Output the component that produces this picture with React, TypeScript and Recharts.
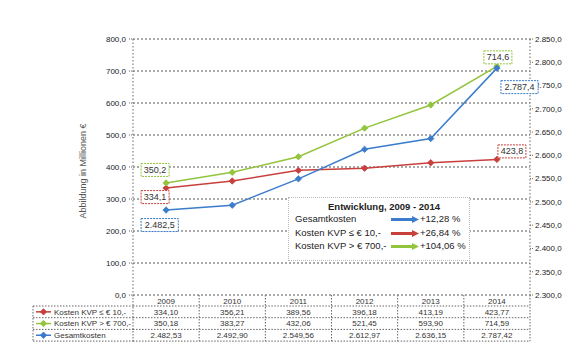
import React from 'react';
import { ComposedChart, Line, XAxis, YAxis, CartesianGrid, LabelList } from 'recharts';

const years = ['2009', '2010', '2011', '2012', '2013', '2014'];
const kostenKlein = [334.1, 356.21, 389.56, 396.18, 413.19, 423.77];
const kostenGross = [350.18, 383.27, 432.06, 521.45, 593.9, 714.59];
const gesamtkosten = [2482.53, 2492.9, 2549.56, 2612.97, 2636.15, 2787.42];
const leftTicks = [0, 100, 200, 300, 400, 500, 600, 700, 800];
const rightTicks = [2300, 2350, 2400, 2450, 2500, 2550, 2600, 2650, 2700, 2750, 2800, 2850];
const trends = ['+12,28 %', '+26,84 %', '+104,06 %'];

const RED = '#c8403c';
const GREEN = '#92c43c';
const BLUE = '#3c7ccc';

const W = 564;
const H = 362;
const LEFT_W = 133;
const RIGHT_W = 34;
const TOP = 39;
const X_H = 67;
const PLOT_W = W - LEFT_W - RIGHT_W;
const COL_W = PLOT_W / years.length;
const TABLE_TOP = H - X_H;
const HEAD_H = 11;
const ROW_H = 11.7;

const data = years.map((year, i) => ({
  year,
  klein: kostenKlein[i],
  gross: kostenGross[i],
  gesamt: gesamtkosten[i],
}));

// german number format
function fmt(v: number, d: number) {
  const s = v.toFixed(d);
  const [i, f] = s.split('.');
  const ii = i.replace(/\B(?=(\d{3})+(?!\d))/g, '.');
  return f ? ii + ',' + f : ii;
}

// table rows, in order red / green / blue
const rows = [
  { key: 'klein', name: 'Kosten KVP ≤ € 10,-', color: RED, values: kostenKlein },
  { key: 'gross', name: 'Kosten KVP > € 700,-', color: GREEN, values: kostenGross },
  { key: 'gesamt', name: 'Gesamtkosten', color: BLUE, values: gesamtkosten },
];

// label box offsets (first / last point)
const labelPos: Record<string, { first: number[]; last: number[] }> = {
  gross: { first: [-25, -13], last: [-13, -9] },
  klein: { first: [-25, 9], last: [1, -8] },
  gesamt: { first: [-25, 15], last: [4, 19] },
};

const dotted = '#666';

function Diamond(props: any) {
  const { cx, cy, color } = props;
  if (cx == null || cy == null) return null;
  const r = 3.2;
  return (
    <path
      d={`M${cx},${cy - r}L${cx + r},${cy}L${cx},${cy + r}L${cx - r},${cy}Z`}
      fill={color}
      stroke={color}
      strokeWidth={0.8}
    />
  );
}

function makeLabel(key: string, color: string) {
  return (props: any) => {
    const { x, y, value, index } = props;
    if (index !== 0 && index !== years.length - 1) return null;
    const pos = index === 0 ? labelPos[key].first : labelPos[key].last;
    const text = fmt(Number(value), 1);
    const w = text.length * 4.6 + 5;
    const bx = x + pos[0];
    const cy = y + pos[1];
    return (
      <g>
        <rect x={bx} y={cy - 6.5} width={w} height={13} fill="#fff" stroke={color} strokeWidth={1} strokeDasharray="2 1" />
        <text x={bx + w / 2} y={cy + 3} textAnchor="middle" fontSize={9} fill="#333">
          {text}
        </text>
      </g>
    );
  };
}

function TableTick(props: any) {
  const { x, index } = props;
  const left = x - COL_W / 2;
  const right = x + COL_W / 2;
  const bottom = TABLE_TOP + HEAD_H + ROW_H * rows.length;
  const lineProps = { stroke: dotted, strokeWidth: 1, strokeDasharray: '1.5 1.5' };
  return (
    <g>
      <line x1={right} y1={TABLE_TOP} x2={right} y2={bottom} {...lineProps} />
      {index === 0 && <line x1={left} y1={TABLE_TOP} x2={left} y2={bottom} {...lineProps} />}
      <text x={x} y={TABLE_TOP + 8.5} textAnchor="middle" fontSize={8} fill="#333">
        {years[index]}
      </text>
      {rows.map((r, ri) => {
        const top = TABLE_TOP + HEAD_H + ROW_H * ri;
        return (
          <g key={r.key}>
            <line x1={left} y1={top} x2={right} y2={top} {...lineProps} />
            <text x={x} y={top + 8.5} textAnchor="middle" fontSize={8} fill="#333">
              {fmt(r.values[index], 2)}
            </text>
          </g>
        );
      })}
      <line x1={left} y1={bottom} x2={right} y2={bottom} {...lineProps} />
      {index === 0 && (
        <g>
          <line x1={33} y1={TABLE_TOP + HEAD_H} x2={33} y2={bottom} {...lineProps} />
          {rows.map((r, ri) => {
            const top = TABLE_TOP + HEAD_H + ROW_H * ri;
            const mid = top + ROW_H / 2;
            return (
              <g key={r.key}>
                <line x1={33} y1={top} x2={left} y2={top} {...lineProps} />
                <line x1={36} y1={mid} x2={51} y2={mid} stroke={r.color} strokeWidth={1.5} />
                <Diamond cx={43.5} cy={mid} color={r.color} />
                <text x={54} y={top + 8.5} fontSize={8} fill="#333">
                  {r.name}
                </text>
              </g>
            );
          })}
          <line x1={33} y1={bottom} x2={left} y2={bottom} {...lineProps} />
        </g>
      )}
    </g>
  );
}

function Arrow({ color }: { color: string }) {
  return (
    <svg width={28} height={7} style={{ display: 'block' }}>
      <rect x={0} y={2} width={22} height={3} fill={color} />
      <polygon points="21,0 28,3.5 21,7" fill={color} />
    </svg>
  );
}

function TrendBox() {
  const names = ['Gesamtkosten', 'Kosten KVP ≤ € 10,-', 'Kosten KVP > € 700,-'];
  const colors = [BLUE, RED, GREEN];
  return (
    <div
      style={{
        position: 'absolute',
        left: 288,
        top: 197,
        width: 182,
        height: 64,
        background: '#fff',
        border: '1px dotted #bbb',
        boxSizing: 'border-box',
        fontSize: 9.5,
        color: '#222',
      }}
    >
      <div style={{ position: 'absolute', top: 3, left: 0, width: '100%', textAlign: 'center', fontWeight: 'bold', paddingLeft: 10, boxSizing: 'border-box' }}>
        Entwicklung, 2009 - 2014
      </div>
      {names.map((n, i) => (
        <div key={n} style={{ position: 'absolute', top: 15 + i * 13.5, left: 6, width: 172, height: 12 }}>
          <span style={{ position: 'absolute', left: 0, top: 0 }}>{n}</span>
          <span style={{ position: 'absolute', left: 96, top: 3 }}>
            <Arrow color={colors[i]} />
          </span>
          <span style={{ position: 'absolute', left: 125, top: 0 }}>{trends[i]}</span>
        </div>
      ))}
    </div>
  );
}

export default function App() {
  const axisLine = { stroke: dotted, strokeDasharray: '1.5 2' };
  return (
    <div
      style={{
        position: 'absolute',
        left: 0,
        top: 0,
        width: W,
        height: H,
        background: '#fff',
        fontFamily: '"Liberation Sans", Arial, sans-serif',
      }}
    >
      <ComposedChart width={W} height={H} data={data} margin={{ top: TOP, right: 0, bottom: 0, left: 0 }}>
        <CartesianGrid yAxisId="left" vertical={false} stroke="#555" strokeDasharray="2 2" />
        <XAxis
          dataKey="year"
          height={X_H}
          padding={{ left: COL_W / 2, right: COL_W / 2 }}
          axisLine={false}
          tickLine={false}
          tickSize={0}
          interval={0}
          tick={<TableTick />}
        />
        <YAxis
          yAxisId="left"
          width={LEFT_W}
          domain={[0, 800]}
          ticks={leftTicks}
          interval={0}
          tickFormatter={(v: number) => fmt(v, 1)}
          tick={{ fontSize: 8, fill: '#222' }}
          tickSize={4}
          tickMargin={3}
          tickLine={{ stroke: dotted, strokeDasharray: '1 1' }}
          axisLine={axisLine}
          label={(props: any) => {
            const vb = props.viewBox || {};
            const cy = (vb.y ?? TOP) + (vb.height ?? 256) / 2 + 4;
            return (
              <text x={86} y={cy} transform={`rotate(-90 86 ${cy})`} textAnchor="middle" fontSize={9} fill="#555">
                Abbildung in Millionen €
              </text>
            );
          }}
        />
        <YAxis
          yAxisId="right"
          orientation="right"
          width={RIGHT_W}
          domain={[2300, 2850]}
          ticks={rightTicks}
          interval={0}
          tickFormatter={(v: number) => fmt(v, 1)}
          tick={{ fontSize: 8, fill: '#222', textAnchor: 'start' }}
          tickSize={3}
          tickMargin={2}
          tickLine={{ stroke: dotted, strokeDasharray: '1 1' }}
          axisLine={axisLine}
        />
        <Line
          yAxisId="left"
          dataKey="klein"
          type="linear"
          stroke={RED}
          strokeWidth={1.5}
          dot={<Diamond color={RED} />}
          activeDot={false}
          isAnimationActive={false}
        >
          <LabelList dataKey="klein" content={makeLabel('klein', RED)} />
        </Line>
        <Line
          yAxisId="left"
          dataKey="gross"
          type="linear"
          stroke={GREEN}
          strokeWidth={1.5}
          dot={<Diamond color={GREEN} />}
          activeDot={false}
          isAnimationActive={false}
        >
          <LabelList dataKey="gross" content={makeLabel('gross', GREEN)} />
        </Line>
        <Line
          yAxisId="right"
          dataKey="gesamt"
          type="linear"
          stroke={BLUE}
          strokeWidth={1.5}
          dot={<Diamond color={BLUE} />}
          activeDot={false}
          isAnimationActive={false}
        >
          <LabelList dataKey="gesamt" content={makeLabel('gesamt', BLUE)} />
        </Line>
      </ComposedChart>
      <TrendBox />
    </div>
  );
}
